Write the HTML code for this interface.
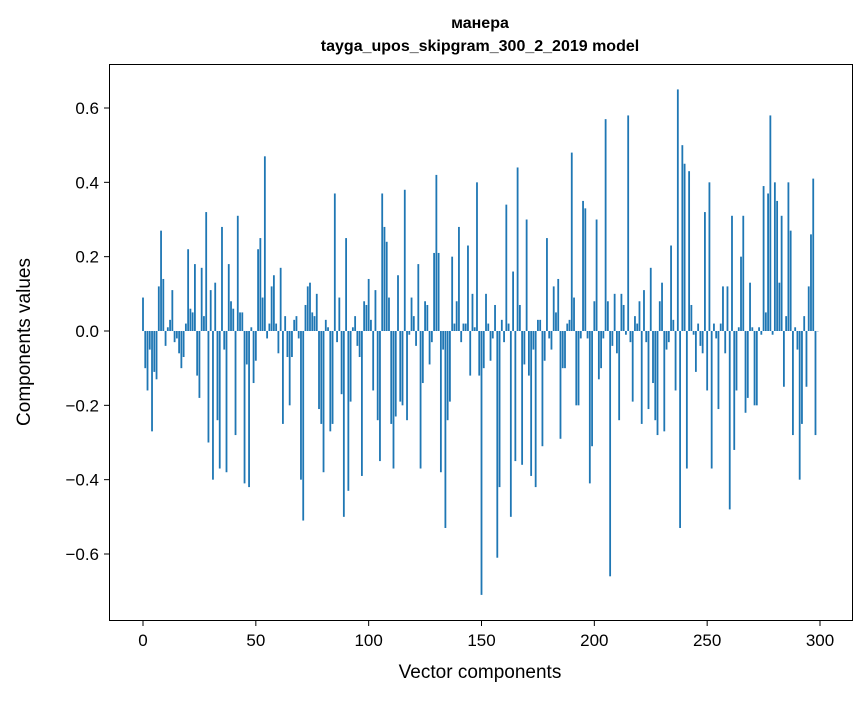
<!DOCTYPE html>
<html><head><meta charset="utf-8"><style>
body{margin:0;background:#fff;}
svg text{font-family:"Liberation Sans","DejaVu Sans",sans-serif;fill:#000;}
</style></head><body>
<svg id="chart" width="867" height="696" xmlns="http://www.w3.org/2000/svg">
<text x="480" y="28" text-anchor="middle" font-size="16" font-weight="bold">манера</text>
<text x="480" y="51" text-anchor="middle" font-size="16" font-weight="bold">tayga_upos_skipgram_300_2_2019 model</text>
<g id="bars"></g>
<rect x="109.5" y="64.5" width="743" height="556" fill="none" stroke="#000" stroke-width="1"/>
<g id="xticks"></g>
<g id="yticks"></g>
<text x="480" y="678" text-anchor="middle" font-size="19">Vector components</text>
<text transform="translate(30,342) rotate(-90)" text-anchor="middle" font-size="19">Components values</text>
</svg>
<script>
const values = [0.09,-0.10,-0.16,-0.05,-0.27,-0.11,-0.13,0.12,0.27,0.14,-0.04,0.01,0.03,0.11,-0.03,-0.02,-0.06,-0.10,-0.07,0.02,0.22,0.06,0.05,0.18,-0.12,-0.18,0.17,0.04,0.32,-0.30,0.11,-0.40,0.13,-0.24,-0.37,0.28,-0.05,-0.38,0.18,0.08,0.06,-0.28,0.31,0.05,0.05,-0.41,-0.09,-0.42,0.01,-0.14,-0.08,0.22,0.25,0.09,0.47,-0.02,0.02,0.12,0.15,0.02,-0.06,0.17,-0.25,0.04,-0.07,-0.20,-0.07,0.03,0.04,-0.02,-0.40,-0.51,0.07,0.12,0.13,0.05,0.04,0.10,-0.21,-0.25,-0.38,0.03,0.01,-0.27,-0.25,0.37,-0.03,0.09,-0.17,-0.50,0.25,-0.43,-0.19,0.01,0.04,-0.04,-0.07,-0.39,0.08,0.07,0.14,0.03,-0.16,0.11,-0.24,-0.35,0.37,0.28,0.24,0.09,-0.25,-0.37,-0.23,0.15,-0.19,-0.20,0.38,-0.24,-0.01,0.09,0.04,-0.04,0.18,-0.37,-0.14,0.08,0.07,-0.09,-0.03,0.21,0.42,0.21,-0.38,-0.05,-0.53,-0.24,-0.19,0.20,0.02,0.08,0.28,-0.03,0.02,0.02,0.23,-0.12,0.10,0.01,0.40,-0.12,-0.71,-0.10,0.10,0.02,-0.08,-0.02,0.07,-0.61,-0.42,0.03,-0.03,0.34,0.02,-0.50,0.16,-0.35,0.44,0.07,-0.36,-0.09,0.30,-0.12,-0.39,-0.05,-0.42,0.03,0.03,-0.31,-0.08,0.25,-0.02,-0.05,0.12,0.05,0.14,-0.29,-0.10,-0.10,0.02,0.03,0.48,0.09,-0.20,-0.20,-0.02,0.35,0.33,-0.02,-0.41,-0.31,0.08,0.30,-0.13,-0.10,-0.02,0.57,0.08,-0.66,-0.04,0.10,-0.06,-0.24,0.10,0.07,-0.01,0.58,-0.03,-0.19,0.04,0.02,0.08,-0.25,0.11,-0.03,-0.21,0.17,-0.14,-0.24,-0.28,0.08,0.13,-0.27,-0.05,-0.03,0.23,0.03,-0.16,0.65,-0.53,0.50,0.45,-0.37,0.43,0.07,-0.01,-0.11,0.02,-0.04,-0.06,0.32,-0.16,0.40,-0.37,0.02,-0.02,-0.21,0.02,0.12,-0.06,0.12,-0.48,0.31,-0.32,-0.16,0.01,0.20,0.31,-0.22,-0.18,0.13,0.01,-0.20,-0.20,0.01,-0.01,0.39,0.05,0.37,0.58,-0.01,0.40,0.35,0.13,0.31,-0.15,0.04,0.40,0.27,-0.28,0.01,-0.05,-0.40,-0.25,0.04,-0.15,0.12,0.26,0.41,-0.28,0.00];
const xTicks = [0,50,100,150,200,250,300];
const yTicks = [-0.6,-0.4,-0.2,0.0,0.2,0.4,0.6];
const yTickLabels = ["\u22120.6","\u22120.4","\u22120.2","0.0","0.2","0.4","0.6"];
const NS="http://www.w3.org/2000/svg";
function xs(i){return 143+i*(820-143)/300;}
function ys(v){return 331-v*(331-108)/0.6;}
const bars=document.getElementById('bars');
const bw=0.8*(820-143)/300;
values.forEach((v,i)=>{
  const r=document.createElementNS(NS,'rect');
  
  
  const y0=ys(0), y1=ys(v);
  r.setAttribute('x',xs(i)-bw/2);
  r.setAttribute('y',Math.min(y0,y1));
  r.setAttribute('width',bw);
  r.setAttribute('height',Math.max(Math.abs(y1-y0),0.3));
  r.setAttribute('fill','#1f77b4');
  bars.appendChild(r);
});
const xg=document.getElementById('xticks');
xTicks.forEach(t=>{
  const l=document.createElementNS(NS,'line');
  
  
  l.setAttribute('x1',xs(t));l.setAttribute('x2',xs(t));
  l.setAttribute('y1',620.5);l.setAttribute('y2',626);
  l.setAttribute('stroke','#000');
  xg.appendChild(l);
  const tx=document.createElementNS(NS,'text');
  
  
  tx.setAttribute('x',xs(t));tx.setAttribute('y',646);
  tx.setAttribute('text-anchor','middle');tx.setAttribute('font-size','17');
  tx.textContent=t;
  xg.appendChild(tx);
});
const yg=document.getElementById('yticks');
yTicks.forEach((t,k)=>{
  const l=document.createElementNS(NS,'line');
  
  
  l.setAttribute('x1',104);l.setAttribute('x2',109.5);
  l.setAttribute('y1',ys(t));l.setAttribute('y2',ys(t));
  l.setAttribute('stroke','#000');
  yg.appendChild(l);
  const tx=document.createElementNS(NS,'text');
  
  
  tx.setAttribute('x',99);tx.setAttribute('y',ys(t)+6);
  tx.setAttribute('text-anchor','end');tx.setAttribute('font-size','17');
  tx.textContent=yTickLabels[k];
  yg.appendChild(tx);
});
</script>
</body></html>
